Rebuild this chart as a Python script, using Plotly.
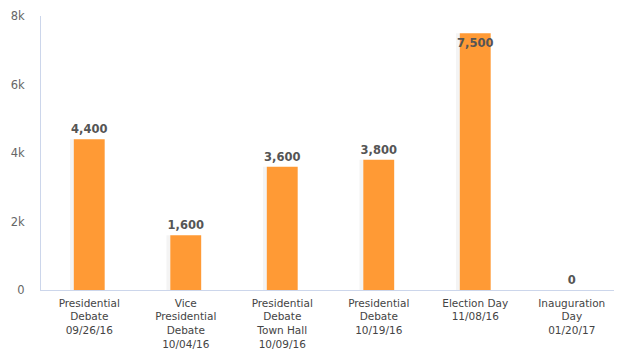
import plotly.graph_objects as go

categories = [
    "Presidential<br>Debate<br>09/26/16",
    "Vice<br>Presidential<br>Debate<br>10/04/16",
    "Presidential<br>Debate<br>Town Hall<br>10/09/16",
    "Presidential<br>Debate<br>10/19/16",
    "Election Day<br>11/08/16",
    "Inauguration<br>Day<br>01/20/17",
]
values = [4400, 1600, 3600, 3800, 7500, 0]
value_labels = ["4,400", "1,600", "3,600", "3,800", "7,500", "0"]
tick_vals = [0, 2000, 4000, 6000, 8000]
tick_text = ["0", "2k", "4k", "6k", "8k"]

font_family = "DejaVu Sans"
bar_w = 0.32

fig = go.Figure()
# faint shadow to the left of each bar
fig.add_trace(go.Bar(
    x=categories, y=values, width=0.045, offset=-bar_w / 2 - 0.04,
    marker=dict(color="rgba(0,0,0,0.045)", line=dict(width=0)),
    hoverinfo="skip", showlegend=False,
))
positions = ["inside" if v > 7000 else "outside" for v in values]
lbl_font = dict(family=font_family, size=11.5, color="#555555", weight="bold")
fig.add_trace(go.Bar(
    x=categories, y=values, width=bar_w, offset=-bar_w / 2,
    marker=dict(color="#FF9A35", line=dict(width=0)),
    text=value_labels, textposition=positions, textangle=0,
    insidetextanchor="end",
    constraintext="none", cliponaxis=False,
    textfont=lbl_font, insidetextfont=lbl_font, outsidetextfont=lbl_font,
    showlegend=False,
))

# page body has an 8px default margin, so the figure is sized/offset accordingly
fig.update_layout(
    width=614, height=355,
    margin=dict(l=33, r=2, t=8, b=73),
    plot_bgcolor="white", paper_bgcolor="white",
    barmode="overlay",
    font=dict(family=font_family, size=10.5, color="#444444"),
    xaxis=dict(
        type="category", showgrid=False, zeroline=False, automargin=False,
        showline=True, linecolor="#ccd6eb", linewidth=1,
        ticks="", ticklabelstandoff=3,
        tickfont=dict(family=font_family, size=10.5, color="#444444"),
    ),
    yaxis=dict(
        range=[0, 8000], tickvals=tick_vals, ticktext=tick_text,
        showgrid=False, zeroline=False, automargin=False,
        showline=True, linecolor="#ccd6eb", linewidth=1,
        ticks="", ticklabelstandoff=13,
        tickfont=dict(family=font_family, size=11.5, color="#666666"),
    ),
)

fig.write_html("out.html")
